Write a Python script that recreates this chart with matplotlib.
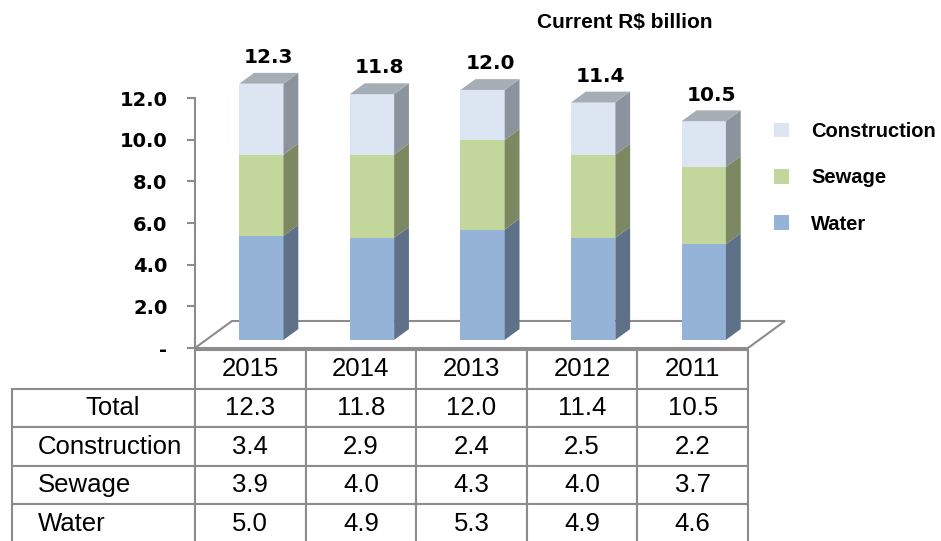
import matplotlib
matplotlib.use("Agg")
import matplotlib.pyplot as plt
from matplotlib.patches import Polygon, Rectangle, Patch
from matplotlib.table import Table
import numpy as np

years = ['2015', '2014', '2013', '2012', '2011']
water = [5.0, 4.9, 5.3, 4.9, 4.6]
sewage = [3.9, 4.0, 4.3, 4.0, 3.7]
construction = [3.4, 2.9, 2.4, 2.5, 2.2]
totals = [12.3, 11.8, 12.0, 11.4, 10.5]
yticks = [0, 2, 4, 6, 8, 10, 12]
ytick_labels = ['-', '2.0', '4.0', '6.0', '8.0', '10.0', '12.0']

series = [('Water', water, '#95b3d7', '#5f7189'),
          ('Sewage', sewage, '#c3d69b', '#7b8862'),
          ('Construction', construction, '#dce6f2', '#8b939c')]
top_color = '#a5adb5'
axis_gray = '#8c8c8c'

W, H = 941, 541
fig = plt.figure(figsize=(W / 100, H / 100), dpi=100)

# chart area: front plane, x 0..5 categories, y in R$ billion
ax = fig.add_axes([195 / W, (H - 348) / H, 553 / W, 323 / H])
ax.set_xlim(0, 5)
ax.set_ylim(0, 323 / 20.83)
for s in ['top', 'right', 'bottom']:
    ax.spines[s].set_visible(False)
ax.spines['left'].set_bounds(0, 12)
ax.spines['left'].set_color(axis_gray)
ax.spines['left'].set_linewidth(1.5)
ax.set_xticks([])
ax.set_yticks(yticks)
ax.set_yticklabels(ytick_labels, fontfamily='DejaVu Sans', fontweight='bold', fontsize=14)
ax.tick_params(axis='y', direction='out', length=5.8, width=1.5, color=axis_gray, pad=14)
ax.patch.set_visible(False)

# depth of the 3D floor, converted to data units
fig.canvas.draw()
inv = ax.transData.inverted()
o = ax.transData.transform((0, 0))
depth = inv.transform(o + np.array([37, 27])) - inv.transform(o)


def dpt(f):
    return depth * f


# floor
floor = Polygon([(0, 0), (5, 0), tuple(np.array([5, 0]) + depth), tuple(depth)],
                closed=True, facecolor='white', edgecolor=axis_gray, lw=1.5,
                clip_on=False, zorder=1)
ax.add_patch(floor)

bw = 0.4
d0, d1 = dpt(0.3), dpt(0.7)
for i in range(len(years)):
    xl, xr = i + 0.5 - bw / 2, i + 0.5 + bw / 2
    base = 0
    for name, vals, front, side in series:
        b, t = base, base + vals[i]
        ax.add_patch(Rectangle((xl + d0[0], b + d0[1]), bw, t - b, facecolor=front,
                               lw=0, clip_on=False, zorder=3))
        ax.add_patch(Polygon([(xr + d0[0], b + d0[1]), (xr + d1[0], b + d1[1]),
                              (xr + d1[0], t + d1[1]), (xr + d0[0], t + d0[1])],
                             closed=True, facecolor=side, lw=0, clip_on=False, zorder=3))
        base = t
    ax.add_patch(Polygon([(xl + d0[0], base + d0[1]), (xr + d0[0], base + d0[1]),
                          (xr + d1[0], base + d1[1]), (xl + d1[0], base + d1[1])],
                         closed=True, facecolor=top_color, lw=0, clip_on=False, zorder=3))
    dm = dpt(0.5)
    ax.annotate(f'{totals[i]:.1f}', (i + 0.5 + dm[0], totals[i] + dm[1]),
                xytext=(0, 11), textcoords='offset points', ha='center', va='baseline',
                fontfamily='DejaVu Sans', fontweight='bold', fontsize=14.5, annotation_clip=False)

fig.text(625 / W, 1 - 22 / H, 'Current R$ billion', ha='center', va='center',
         fontfamily='Liberation Sans', fontweight='bold', fontsize=15)

handles = [Patch(facecolor=c) for _, _, c, _ in series[::-1]]
labels = [n for n, _, _, _ in series[::-1]]
fig.legend(handles, labels, loc='upper left', bbox_to_anchor=(756 / W, 1 - 104 / H),
           frameon=False, handlelength=0.75, handleheight=0.75, handletextpad=1.1,
           labelspacing=1.35, prop={'family': 'Liberation Sans', 'weight': 'bold', 'size': 14.5})

# data table
tax = fig.add_axes([12 / W, (H - 543) / H, 736 / W, 193 / H])
tax.axis('off')
tb = Table(tax, bbox=[0, 0, 1, 1])
rows = ['Total', 'Construction', 'Sewage', 'Water']
row_vals = [totals, construction, sewage, water]
lab_w, col_w, rh = 183 / 736, 110.6 / 736, 1 / 5
tfont = {'family': 'Liberation Sans', 'size': 18.5}
for j, y in enumerate(years):
    c = tb.add_cell(0, j + 1, col_w, rh, text=y, loc='center', edgecolor=axis_gray)
    c.get_text().set(**tfont)
for r, (name, vals) in enumerate(zip(rows, row_vals), start=1):
    c = tb.add_cell(r, 0, lab_w, rh, text=name, loc='left', edgecolor=axis_gray)
    c.PAD = 0.40 if name == 'Total' else 0.14
    c.get_text().set(**tfont)
    for j, v in enumerate(vals):
        c = tb.add_cell(r, j + 1, col_w, rh, text=f'{v:.1f}', loc='center', edgecolor=axis_gray)
        c.get_text().set(**tfont)
for c in tb.get_celld().values():
    c.set_linewidth(1.5)
tb.auto_set_font_size(False)
tb.set_fontsize(18.5)
tax.add_table(tb)

fig.savefig('out.png', dpi=100)
